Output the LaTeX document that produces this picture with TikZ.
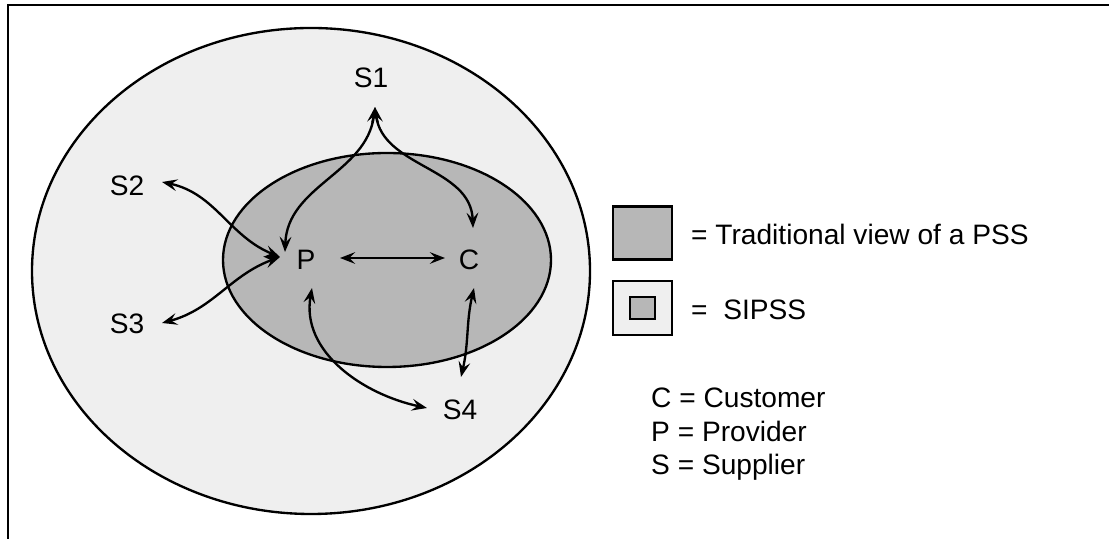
\documentclass[tikz,border=0pt]{standalone}
\usepackage{fontspec}
\setmainfont{Liberation Sans}
\usetikzlibrary{arrows.meta}
\definecolor{outerfill}{HTML}{EFEFEF}
\definecolor{innerfill}{HTML}{B7B7B7}
\begin{document}
\begin{tikzpicture}[x=0.03cm,y=0.03cm,
  lbl/.style={font=\fontsize{24}{28}\selectfont, inner sep=0pt},
  link/.style={line width=2pt, {Stealth[length=13pt,width=10pt,inset=5pt]}-{Stealth[length=13pt,width=10pt,inset=5pt]}},
  region/.style={line width=2pt, draw=black},
  keybox/.style={draw, line width=2pt, inner sep=0pt}
]
\useasboundingbox (0,0) rectangle (1109,539);
\clip (0,0) rectangle (1109,539);
% frame
\draw[line width=2.2pt] (8,-20) -- (8,534) -- (1130,534);

% system boundaries
\draw[region, fill=outerfill] (311,268) ellipse [x radius=279, y radius=243];
\draw[region, fill=innerfill] (387,279) ellipse [x radius=164, y radius=107];

% actors
\node[lbl] (P) at (306,279) {P};
\node[lbl] (C) at (469,279) {C};
\node[lbl] (S1) at (371,461) {S1};
\node[lbl] (S2) at (127,353) {S2};
\node[lbl] (S3) at (127,215) {S3};
\node[lbl] (S4) at (460,129) {S4};

% connector ends
\coordinate (s1b)   at ([shift={(4,-29)}]S1.center);
\coordinate (s2e)   at ([shift={(35,4)}]S2.center);
\coordinate (s3e)   at ([shift={(35,1)}]S3.center);
\coordinate (s4w)   at ([shift={(-33,2)}]S4.center);
\coordinate (s4n)   at ([shift={(1,33)}]S4.center);
\coordinate (ptop)  at ([shift={(-21,8)}]P.center);
\coordinate (pwest) at ([shift={(-26,3)}]P.center);
\coordinate (peast) at ([shift={(34,2)}]P.center);
\coordinate (pbot)  at ([shift={(6,-28)}]P.center);
\coordinate (ctop)  at ([shift={(4,32)}]C.center);
\coordinate (cwest) at ([shift={(-24,2)}]C.center);
\coordinate (cbot)  at ([shift={(5,-28)}]C.center);

% links
\draw[link] (s1b) to[out=-97,in=88] (ptop);
\draw[link] (s1b) to[out=-83,in=92] (ctop);
\draw[link] (s2e) to[out=-12,in=158] (pwest);
\draw[link] (s3e) to[out=15,in=200] (pwest);
\draw[link] (peast) -- (cwest);
\draw[link] (pbot) to[out=-100,in=168] (s4w);
\draw[link] (cbot) to[out=-103,in=77] (s4n);

% legend
\node[keybox, fill=innerfill, minimum width=59*0.03cm, minimum height=53*0.03cm] (k1) at (642.5,306) {};
\node[lbl, anchor=base west] (t1) at (691,294) {= Traditional view of a PSS};
\node[keybox, fill=outerfill, minimum width=59*0.03cm, minimum height=54*0.03cm] (k2) at (642.5,231) {};
\node[keybox, fill=innerfill, minimum width=25*0.03cm, minimum height=22*0.03cm] (k2i) at (k2.center) {};
\node[lbl, anchor=base west] (t2) at (691,219) {=\ \ SIPSS};
\node[lbl, anchor=base west] (kc) at (651,131) {C = Customer};
\node[lbl, anchor=base west] (kp) at (651,97) {P = Provider};
\node[lbl, anchor=base west] (ks) at (651,64) {S = Supplier};
\end{tikzpicture}
\end{document}
